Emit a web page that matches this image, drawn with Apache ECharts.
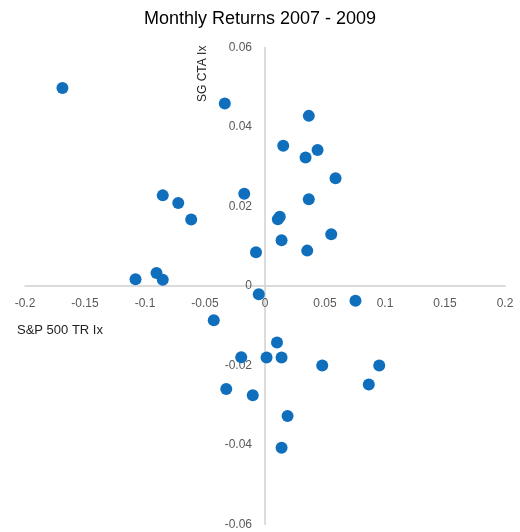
<!DOCTYPE html>
<html>
<head>
<meta charset="utf-8">
<script src="https://cdn.jsdelivr.net/npm/echarts@6/dist/echarts.min.js"></script>
<style>html,body{margin:0;padding:0;background:#fff}#c{width:520px;height:532px}</style>
</head>
<body>
<div id="c"></div>
<script>
const title = 'Monthly Returns 2007 - 2009';
const xName = 'S&P 500 TR Ix';
const yName = 'SG CTA Ix';
const spReturns = [-0.1688, -0.0335, 0.0365, 0.0152, 0.0438, 0.0338, 0.0588, -0.0852, -0.0723, -0.0615, -0.0173, 0.0365, 0.0123, 0.0107, 0.0138, 0.0552, 0.0352, -0.0075, -0.1079, -0.0904, -0.0852, -0.0052, 0.0754, -0.0427, 0.0100, -0.0198, 0.0013, 0.0138, 0.0477, 0.0952, 0.0865, -0.0323, -0.0102, 0.0188, 0.0138];
const ctaReturns = [0.0498, 0.0459, 0.0428, 0.0353, 0.0342, 0.0323, 0.0271, 0.0228, 0.0209, 0.0167, 0.0232, 0.0218, 0.0174, 0.0168, 0.0115, 0.0130, 0.0089, 0.0085, 0.0017, 0.0033, 0.0016, -0.0021, -0.0037, -0.0086, -0.0142, -0.0179, -0.0180, -0.0180, -0.0200, -0.0200, -0.0248, -0.0259, -0.0275, -0.0327, -0.0407];
const xTicks = {min: -0.2, max: 0.2, interval: 0.05};
const yTicks = {min: -0.06, max: 0.06, interval: 0.02};

const points = spReturns.map((x, i) => [x, ctaReturns[i]]);
const fmt = v => (Math.abs(v) < 1e-9 ? '0' : String(+v.toFixed(2)));
const labelFont = 'Liberation Sans';
const W = 520, H = 532;
const grid = {left: 25, right: 15, top: 47.5, bottom: 7.5};
const gw = W - grid.left - grid.right, gh = H - grid.top - grid.bottom;
// move the axes to the zero lines (ranges are symmetric so zero sits mid-grid)
const xOffset = -gh * (0 - yTicks.min) / (yTicks.max - yTicks.min);
const yOffset = -gw * (0 - xTicks.min) / (xTicks.max - xTicks.min);

const chart = echarts.init(document.getElementById('c'), null, {renderer: 'canvas'});
chart.setOption({
  animation: false,
  title: {
    text: title, left: 'center', top: 5,
    textStyle: {fontFamily: labelFont, fontSize: 18, fontWeight: 'normal', color: '#000'}
  },
  grid: Object.assign({containLabel: false, outerBoundsMode: 'none'}, grid),
  xAxis: {
    type: 'value', min: xTicks.min, max: xTicks.max, interval: xTicks.interval,
    position: 'bottom', offset: xOffset,
    axisLine: {onZero: false, lineStyle: {color: '#d0d0d0', width: 1.5}},
    axisTick: {show: false}, splitLine: {show: false},
    axisLabel: {formatter: fmt, color: '#595959', fontFamily: labelFont, fontSize: 12, margin: 12}
  },
  yAxis: {
    type: 'value', min: yTicks.min, max: yTicks.max, interval: yTicks.interval,
    position: 'left', offset: yOffset,
    axisLine: {onZero: false, lineStyle: {color: '#d0d0d0', width: 1.5}},
    axisTick: {show: false}, splitLine: {show: false},
    axisLabel: {formatter: fmt, color: '#595959', fontFamily: labelFont, fontSize: 12, margin: 13}
  },
  graphic: [
    {type: 'text', left: 17, top: 324, style: {text: xName, fontFamily: labelFont, fontSize: 13, fill: '#222'}},
    {type: 'text', x: 197, y: 102, rotation: Math.PI / 2, style: {text: yName, fontFamily: labelFont, fontSize: 12, fill: '#222'}}
  ],
  series: [{
    type: 'scatter', data: points, symbolSize: 12,
    itemStyle: {color: '#0f6fbd', opacity: 1}
  }]
});
</script>
</body>
</html>
